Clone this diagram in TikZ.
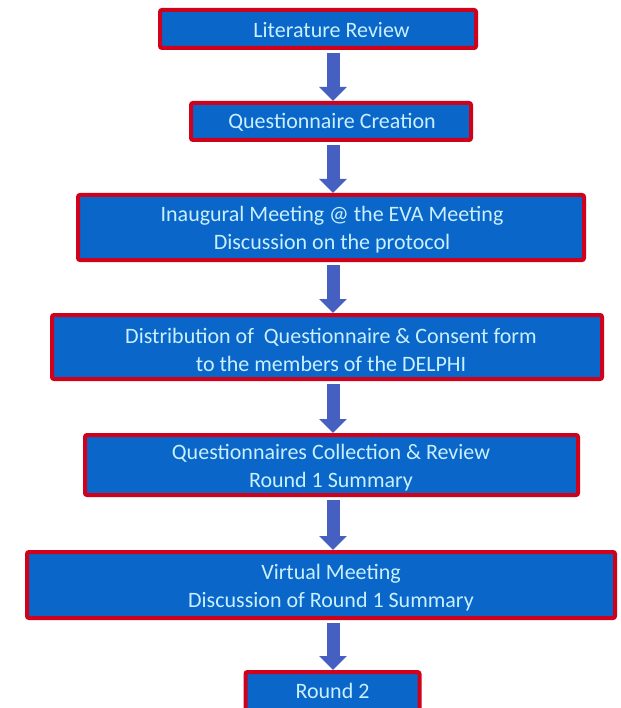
\documentclass[tikz,border=0pt]{standalone}
\usepackage{fontspec}
\setmainfont{Carlito}
\usetikzlibrary{arrows.meta}
\definecolor{boxblue}{HTML}{0A66C8}
\definecolor{boxred}{HTML}{D0021B}
\definecolor{txtcol}{HTML}{C8F0FF}
\definecolor{arrfill}{HTML}{4660C2}
\tikzset{
  flowbox/.style={draw=boxred, line width=4pt, fill=boxblue, rounded corners=2pt,
    inner sep=0pt, outer sep=2pt},
  flowtext/.style={text=txtcol, font=\fontsize{22}{28}\selectfont, align=center, inner sep=0pt},
  flowarrow/.style={draw=arrfill, line width=13pt, shorten <=3pt,
    -{Triangle[width=27pt,length=14pt]}}
}
\begin{document}
\begin{tikzpicture}[x=1pt,y=-1pt]
\useasboundingbox (0,0) rectangle (620,708);
\clip (0,0) rectangle (620,708);
\fill[white] (0,0) rectangle (620,708);
\coordinate (col) at (333,0);
\node[flowbox, minimum width=316pt, minimum height=38pt] (b1) at (318,29) {};
\node[flowbox, minimum width=280pt, minimum height=37pt] (b2) at (331,121.5) {};
\node[flowbox, minimum width=506pt, minimum height=65pt] (b3) at (331,227.5) {};
\node[flowbox, minimum width=550pt, minimum height=64pt] (b4) at (327,347) {};
\node[flowbox, minimum width=493pt, minimum height=60pt] (b5) at (331.5,465) {};
\node[flowbox, minimum width=588pt, minimum height=66pt] (b6) at (321,585) {};
\node[flowbox, minimum width=174pt, minimum height=42pt] (b7) at (332.5,693) {};
\node[flowtext] (t1) at (331.5,30) {Literature Review};
\node[flowtext] (t2) at (332,122.5) {Questionnaire Creation};
\node[flowtext] (t3) at (332,230) {Inaugural Meeting @ the EVA Meeting\\Discussion on the protocol};
\node[flowtext] (t4) at (331,350) {Distribution of \ Questionnaire \& Consent form\\to the members of the DELPHI};
\node[flowtext] (t5) at (331,468) {Questionnaires Collection \& Review\\Round 1 Summary};
\node[flowtext] (t6) at (331,588) {Virtual Meeting\\Discussion of Round 1 Summary};
\node[flowtext] (t7) at (332.5,691) {Round 2};
\foreach \a/\b in {b1/b2,b2/b3,b3/b4,b4/b5,b5/b6,b6/b7}
  \draw[flowarrow] (\a.south -| col) -- (\b.north -| col);
\end{tikzpicture}
\end{document}
